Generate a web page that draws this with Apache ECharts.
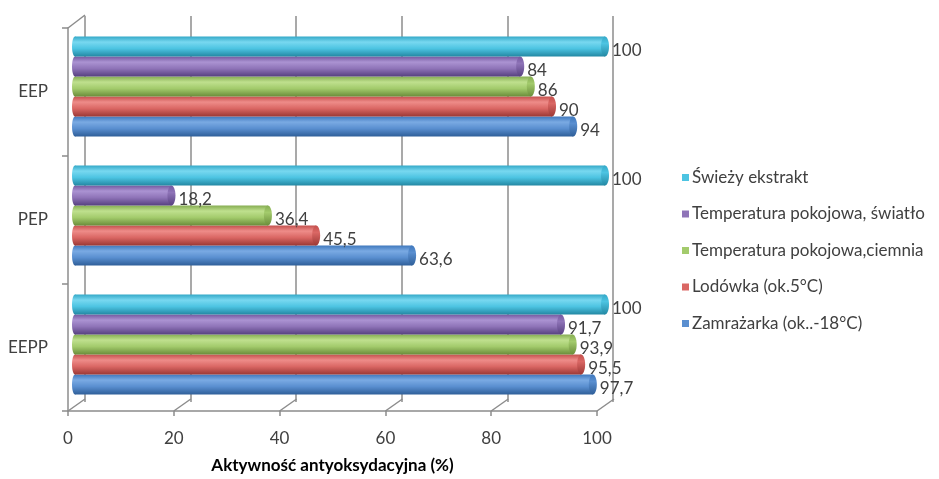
<!DOCTYPE html>
<html>
<head>
<meta charset="utf-8">
<script src="https://cdn.jsdelivr.net/npm/echarts@6/dist/echarts.min.js"></script>
<style>
  html, body { margin: 0; padding: 0; background: #ffffff; }
  #chart { width: 939px; height: 479px; }
</style>
</head>
<body>
<div id="chart"></div>
<script>
// Extract groups, listed bottom to top along the category axis
const categories = ['EEPP', 'PEP', 'EEP'];

// Antioxidant activity (%) per storage condition, in the order of categories
const zamrazarka = [97.7, 63.6, 94];
const lodowka = [95.5, 45.5, 90];
const ciemnia = [93.9, 36.4, 86];
const swiatlo = [91.7, 18.2, 84];
const swiezy = [100, 100, 100];

const seriesNames = [
  'Zamrażarka (ok..-18°C)',
  'Lodówka (ok.5°C)',
  'Temperatura pokojowa,ciemnia',
  'Temperatura pokojowa, światło',
  'Świeży ekstrakt'
];
const seriesValues = [zamrazarka, lodowka, ciemnia, swiatlo, swiezy];

const axisTicks = [0, 20, 40, 60, 80, 100];
const axisTitle = 'Aktywność antyoksydacyjna (%)';

// Cylinder shading: [edge, highlight, body, shadow]
const palette = [
  ['#3f78bd', '#7aaae3', '#5a8fd0', '#2f5f99'],
  ['#c4504d', '#ee8c89', '#da6764', '#9c3835'],
  ['#86ad52', '#bfe08e', '#a3cb6c', '#6a8d3a'],
  ['#7459a0', '#ab93d2', '#8f74b8', '#574080'],
  ['#34a9c8', '#78d8f0', '#4dc4e2', '#2388a3']
];

const FONT = 'Lato, "Open Sans", sans-serif';
const TEXT = '#404040';
const FRAME = '#8c8c8c';
const DEPTH = { dx: 17, dy: -12 };

function cylinderFill(c) {
  return new echarts.graphic.LinearGradient(0, 0, 0, 1, [
    { offset: 0, color: c[0] },
    { offset: 0.28, color: c[1] },
    { offset: 0.6, color: c[2] },
    { offset: 1, color: c[3] }
  ]);
}

function fmt(v) {
  return String(v).replace('.', ',');
}

// One cylinder per data item; bars of a group stack upward by series index
function makeBarRenderer(sIdx) {
  return function (params, api) {
    const cat = api.value(0);
    const val = api.value(1);
    const band = api.size([0, 1])[1];
    const barH = band * 100 / 129 / 5;
    const start = api.coord([0, cat]);
    const end = api.coord([val, cat]);
    const cy = start[1] + (2 - sIdx) * barH;
    const top = cy - barH / 2;
    const rx = 4;
    const c = palette[sIdx];
    return {
      type: 'group',
      children: [
        {
          type: 'ellipse',
          shape: { cx: start[0], cy: cy, rx: rx - 1, ry: barH / 2 },
          style: { fill: cylinderFill(c) }
        },
        {
          type: 'rect',
          shape: { x: start[0], y: top, width: end[0] - start[0], height: barH },
          style: { fill: cylinderFill(c) }
        },
        {
          type: 'ellipse',
          shape: { cx: end[0], cy: cy, rx: rx, ry: barH / 2 },
          style: {
            fill: new echarts.graphic.LinearGradient(0, 0, 0, 1, [
              { offset: 0, color: c[0] },
              { offset: 0.35, color: c[2] },
              { offset: 1, color: c[3] }
            ])
          }
        },
        {
          type: 'text',
          style: {
            x: end[0] + rx + 3,
            y: cy + 4,
            text: fmt(val),
            fill: TEXT,
            font: '17px ' + FONT,
            verticalAlign: 'middle',
            align: 'left'
          }
        }
      ]
    };
  };
}

// Floor lines running from each front tick back to the rear wall, plus the top-left edge
function renderFrame(params, api) {
  const v = api.value(0);
  const cs = params.coordSys;
  const x = api.coord([v, 0])[0];
  const floorY = cs.y + cs.height;
  const children = [
    {
      type: 'line',
      shape: { x1: x, y1: floorY, x2: x + DEPTH.dx, y2: floorY + DEPTH.dy },
      style: { stroke: FRAME, lineWidth: 1.5 }
    }
  ];
  if (v === 0) {
    children.push({
      type: 'line',
      shape: { x1: x, y1: cs.y, x2: x + DEPTH.dx, y2: cs.y + DEPTH.dy - 1 },
      style: { stroke: FRAME, lineWidth: 1.5 }
    });
  }
  return { type: 'group', children: children };
}

const chart = echarts.init(document.getElementById('chart'), null, { renderer: 'canvas' });

const barSeries = seriesValues.map(function (vals, i) {
  return {
    name: seriesNames[i],
    type: 'custom',
    xAxisIndex: 2,
    yAxisIndex: 2,
    z: 10,
    itemStyle: { color: palette[i][2] },
    renderItem: makeBarRenderer(i),
    encode: { x: 1, y: 0 },
    data: vals.map(function (v, k) { return [k, v]; })
  };
});

const option = {
  backgroundColor: '#ffffff',
  animation: false,
  textStyle: { fontFamily: FONT },
  grid: [
    // front plane: axes and labels
    { left: 68, right: 342, top: 28, bottom: 65 },
    // rear wall: grid lines
    { left: 85, right: 326, top: 16, bottom: 77 },
    // mid-depth plane: the cylinders
    { left: 75, right: 334, top: 22, bottom: 70 }
  ],
  xAxis: [
    {
      gridIndex: 0, type: 'value', min: 0, max: 100, interval: 20,
      axisLine: { show: true, lineStyle: { color: FRAME, width: 1.5 } },
      axisTick: { show: true, length: 5, lineStyle: { color: FRAME, width: 1.5 } },
      axisLabel: {
        color: TEXT, fontSize: 17, margin: 19, fontFamily: FONT,
        formatter: function (v) { return axisTicks.indexOf(v) >= 0 ? String(v) : ''; }
      },
      splitLine: { show: false },
      name: axisTitle,
      nameLocation: 'middle',
      nameGap: 46,
      nameTextStyle: { color: '#000000', fontSize: 17, fontWeight: 'bold', fontFamily: FONT }
    },
    {
      gridIndex: 1, type: 'value', min: 0, max: 100, interval: 20,
      axisLine: { show: false }, axisTick: { show: false }, axisLabel: { show: false },
      splitLine: { show: true, lineStyle: { color: FRAME, width: 1.5 } }
    },
    {
      gridIndex: 2, type: 'value', min: 0, max: 100, show: false
    }
  ],
  yAxis: [
    {
      gridIndex: 0, type: 'category', data: categories,
      axisLine: { show: true, lineStyle: { color: FRAME, width: 1.5 } },
      axisTick: { show: true, length: 6, lineStyle: { color: FRAME, width: 1.5 } },
      axisLabel: { color: TEXT, fontSize: 17, margin: 20, fontFamily: FONT }
    },
    {
      gridIndex: 1, type: 'category', data: categories, show: false
    },
    {
      gridIndex: 2, type: 'category', data: categories, show: false
    }
  ],
  legend: {
    orient: 'vertical',
    left: 677,
    top: 164,
    itemWidth: 7,
    itemHeight: 7,
    itemGap: 19.5,
    icon: 'rect',
    data: seriesNames.slice().reverse(),
    textStyle: { color: TEXT, fontSize: 17, fontFamily: FONT, padding: [0, 0, 0, -2] }
  },
  series: [
    {
      type: 'custom',
      xAxisIndex: 0,
      yAxisIndex: 0,
      z: 1,
      silent: true,
      renderItem: renderFrame,
      encode: { x: 0 },
      data: axisTicks.map(function (v) { return [v, 0]; })
    }
  ].concat(barSeries)
};

chart.setOption(option);
</script>
</body>
</html>
